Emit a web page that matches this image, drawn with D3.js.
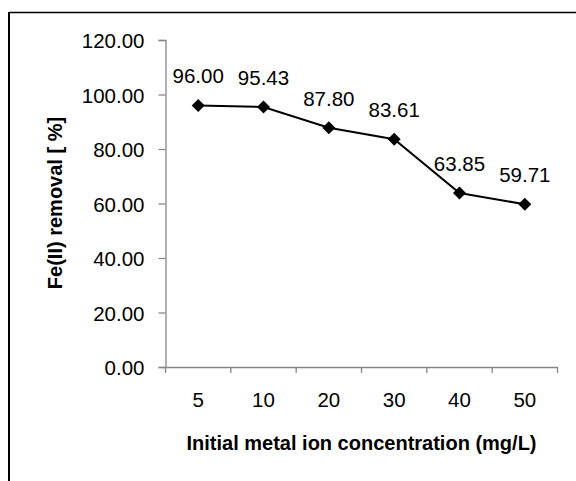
<!DOCTYPE html>
<html><head><meta charset="utf-8">
<script src="https://cdn.jsdelivr.net/npm/d3@7"></script>
<style>body{margin:0;background:#fff}svg{display:block}text{font-family:"Liberation Sans",Arial,sans-serif}</style>
</head><body>
<svg id="c" width="576" height="481"></svg>
<script>
const categories = ["5","10","20","30","40","50"];
const values = [96.00, 95.43, 87.80, 83.61, 63.85, 59.71];
const yTicks = [0,20,40,60,80,100,120];
const xTitle = "Initial metal ion concentration (mg/L)";
const yTitle = "Fe(II) removal [ %]";

const svg = d3.select("#c");
svg.append("line").attr("x1",9).attr("y1",12.5).attr("x2",576).attr("y2",12.5).attr("stroke","#000").attr("stroke-width",1.5);
svg.append("line").attr("x1",9).attr("y1",12).attr("x2",9).attr("y2",481).attr("stroke","#000").attr("stroke-width",2);

const x = d3.scaleBand().domain(categories).range([165.5,557.5]);
const y = d3.scaleLinear().domain([0,120]).range([367,40]);
const axisColor = "#878787";
const tickFont = 20.5;

const gy = svg.append("g").attr("transform","translate(165.5,0)")
  .call(d3.axisLeft(y).tickValues(yTicks).tickSize(7).tickPadding(14).tickFormat(d3.format(".2f")));
gy.select(".domain").attr("stroke",axisColor).attr("stroke-width",1.3);
gy.selectAll(".tick line").attr("stroke",axisColor).attr("stroke-width",1.3);
gy.selectAll(".tick text").attr("font-size",tickFont).attr("fill","#000").attr("font-family","Liberation Sans, Arial, sans-serif").attr("dy","0.38em");

const gx = svg.append("g").attr("transform","translate(0,367)")
  .call(d3.axisBottom(x).tickSize(0).tickPadding(25).tickSizeOuter(0));
gx.select(".domain").attr("stroke",axisColor).attr("stroke-width",1.3);
gx.selectAll(".tick text").attr("font-size",tickFont).attr("fill","#000").attr("font-family","Liberation Sans, Arial, sans-serif");
const bounds = categories.map(c=>x(c)).concat([x.range()[1]]);
gx.selectAll("line.bt").data(bounds).enter().append("line").attr("class","bt")
  .attr("x1",d=>d).attr("x2",d=>d).attr("y1",0).attr("y2",6).attr("stroke",axisColor).attr("stroke-width",1.3);

const cx = c => x(c) + x.bandwidth()/2;
const line = d3.line().x((d,i)=>cx(categories[i])).y(d=>y(d));
svg.append("path").datum(values).attr("d",line).attr("fill","none").attr("stroke","#000").attr("stroke-width",2);

const s = 6.5;
svg.selectAll("path.mk").data(values).enter().append("path").attr("class","mk")
  .attr("d",(d,i)=>{const px=cx(categories[i]),py=y(d);return `M${px},${py-s}L${px+s},${py}L${px},${py+s}L${px-s},${py}Z`;})
  .attr("fill","#000");

svg.selectAll("text.lbl").data(values).enter().append("text").attr("class","lbl")
  .attr("x",(d,i)=>cx(categories[i])).attr("y",d=>y(d)-22)
  .attr("text-anchor","middle").attr("font-size",tickFont).text(d=>d.toFixed(2));

svg.append("text").attr("x",361.5).attr("y",450).attr("text-anchor","middle")
  .attr("font-size",20).attr("font-weight","bold").text(xTitle);
svg.append("text").attr("transform","translate(62,203) rotate(-90)").attr("text-anchor","middle")
  .attr("font-size",20).attr("font-weight","bold").text(yTitle);
</script>
</body></html>
